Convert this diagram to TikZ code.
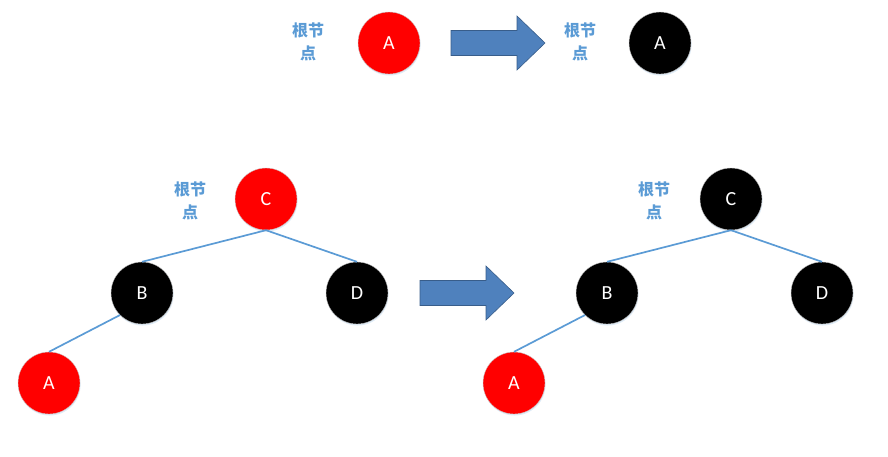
\documentclass[tikz,border=0pt]{standalone}
\usepackage{fontspec}
\setmainfont{Carlito}
\newfontfamily\cjk{Noto Sans CJK SC}
\usetikzlibrary{shadows}
\definecolor{edgeblue}{RGB}{91,155,213}
\definecolor{arrowblue}{RGB}{79,129,189}
\definecolor{arrowline}{RGB}{56,93,138}
\tikzset{
  rbnode/.style={circle, minimum size=62pt, inner sep=0pt, draw=gray!40, line width=0.4pt,
    text=white, font=\fontsize{20}{22}\selectfont,
    drop shadow={shadow xshift=0.6pt, shadow yshift=-1.5pt, fill=edgeblue!25, opacity=0.8}},
  rednode/.style={rbnode, fill=red},
  blacknode/.style={rbnode, fill=black},
  rootlabel/.style={text=edgeblue, font=\cjk\bfseries\fontsize{16}{23}\selectfont, align=center},
  treeedge/.style={draw=edgeblue, line width=1.7pt}
}
% big block arrow, #1 = left end, #2 = centre height
\newcommand{\blockarrow}[2]{%
  \filldraw[fill=arrowblue, draw=arrowline, line width=0.6pt]
    (#1,#2+12.5) -- (#1+66,#2+12.5) -- (#1+66,#2+27) -- (#1+94,#2)
    -- (#1+66,#2-27) -- (#1+66,#2-12.5) -- (#1,#2-12.5) -- cycle;}
\begin{document}
\begin{tikzpicture}[x=1pt, y=-1pt]
    % page frame
    \useasboundingbox (0,0) rectangle (888,456);

    % Top row: single root
    \node[rootlabel] (lroot1) at (308,42) {根节\\点};
    \node[rednode] (topa) at (389,43) {A};
    \blockarrow{451}{43}
    \node[rootlabel] (lroot2) at (580,42) {根节\\点};
    \node[blacknode] (topb) at (660,43) {A};

    % Bottom left tree
    \node[rootlabel] (lroot3) at (190,201) {根节\\点};
    \node[rednode] (c1) at (266,199) {C};
    \node[blacknode] (b1) at (142,293) {B};
    \node[blacknode] (d1) at (357,293) {D};
    \node[rednode] (a1) at (49,383) {A};
    \draw[treeedge] (c1.south) -- (b1.north);
    \draw[treeedge] (c1.south) -- (d1.north);
    \draw[treeedge] (b1.south west) -- (a1.north);

    % Arrow between trees
    \blockarrow{420}{293}

    % Bottom right tree
    \node[rootlabel] (lroot4) at (654,201) {根节\\点};
    \node[blacknode] (c2) at (731,199) {C};
    \node[blacknode] (b2) at (607,293) {B};
    \node[blacknode] (d2) at (822,293) {D};
    \node[rednode] (a2) at (514,383) {A};
    \draw[treeedge] (c2.south) -- (b2.north);
    \draw[treeedge] (c2.south) -- (d2.north);
    \draw[treeedge] (b2.south west) -- (a2.north);
\end{tikzpicture}
\end{document}
